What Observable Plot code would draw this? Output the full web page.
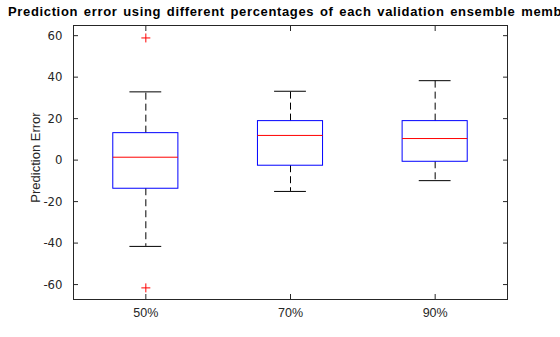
<!DOCTYPE html>
<html>
<head>
<meta charset="utf-8">
<script src="https://cdn.jsdelivr.net/npm/d3@7"></script>
<script src="https://cdn.jsdelivr.net/npm/@observablehq/plot@0.6"></script>
<style>
  html, body { margin: 0; padding: 0; background: #fff; overflow: hidden; }
  #wrap { position: relative; width: 560px; height: 337px; overflow: hidden; }
  #title { position: absolute; left: 8px; top: 4px; white-space: nowrap;
    font: bold 13px "Liberation Sans", Arial, sans-serif; color: #000;
    letter-spacing: 0.65px; word-spacing: 1.5px; }
</style>
</head>
<body>
<div id="wrap">
  <div id="chart"></div>
  <div id="title">Prediction error using different percentages of each validation ensemble members</div>
</div>
<script>
const categories = ["50%", "70%", "90%"];
const q1 = [-13.8, -2.7, -0.8];
const medians = [1.4, 11.9, 10.4];
const q3 = [13.0, 18.8, 18.8];
const whiskerLow = [-41.6, -15.1, -9.9];
const whiskerHigh = [32.9, 33.2, 38.3];
const outlierCategory = ["50%", "50%"];
const outlierValue = [58.9, -61.6];
const yTicks = [-60, -40, -20, 0, 20, 40, 60];
const yLabel = "Prediction Error";

const boxes = categories.map((c, i) => ({
  cat: c, pos: i + 1, q1: q1[i], med: medians[i], q3: q3[i], lo: whiskerLow[i], hi: whiskerHigh[i]
}));
const outliers = outlierCategory.map((c, i) => ({ pos: categories.indexOf(c) + 1, v: outlierValue[i] }));

const boxHalf = 0.225, capHalf = 0.11;
const axisColor = "#262626";
const fontFamily = "'Liberation Sans', Arial, sans-serif";
const narrowFont = "'Liberation Sans Narrow', 'DejaVu Sans Condensed', 'Liberation Sans', sans-serif";
const xTicks = categories.map((c, i) => i + 1);

const chart = Plot.plot({
  width: 560,
  height: 337,
  marginLeft: 73,
  marginRight: 53,
  marginTop: 25,
  marginBottom: 38,
  style: { fontFamily, fontSize: "12px", color: axisColor, background: "#fff" },
  x: { domain: [0.5, 3.5], axis: null },
  y: { domain: [-67.2, 64.9], axis: null },
  marks: [
    // whiskers (dashed)
    Plot.ruleX(boxes, { x: "pos", y1: "q3", y2: "hi", stroke: "#000", strokeWidth: 1, strokeDasharray: "7,4" }),
    Plot.ruleX(boxes, { x: "pos", y1: "q1", y2: "lo", stroke: "#000", strokeWidth: 1, strokeDasharray: "7,4" }),
    // caps
    Plot.ruleY(boxes, { y: "hi", x1: d => d.pos - capHalf, x2: d => d.pos + capHalf, stroke: "#000", strokeWidth: 1 }),
    Plot.ruleY(boxes, { y: "lo", x1: d => d.pos - capHalf, x2: d => d.pos + capHalf, stroke: "#000", strokeWidth: 1 }),
    // boxes
    Plot.rect(boxes, { x1: d => d.pos - boxHalf, x2: d => d.pos + boxHalf, y1: "q1", y2: "q3", fill: "none", stroke: "#0000ff", strokeWidth: 1 }),
    // medians
    Plot.ruleY(boxes, { y: "med", x1: d => d.pos - boxHalf, x2: d => d.pos + boxHalf, stroke: "#ff0000", strokeWidth: 1 }),
    // outliers
    Plot.dot(outliers, { x: "pos", y: "v", symbol: "plus", r: 3, stroke: "#ff0000", strokeWidth: 1 }),
    // frame
    Plot.frame({ stroke: axisColor, strokeWidth: 1 }),
    // inward ticks
    Plot.axisY(yTicks, { anchor: "left", tickSize: 5, dx: 5, tickFormat: () => "", label: null, stroke: axisColor }),
    Plot.axisY(yTicks, { anchor: "right", tickSize: 5, dx: -5, tickFormat: () => "", label: null, stroke: axisColor }),
    Plot.axisX(xTicks, { anchor: "bottom", tickSize: 5, dy: -5, tickFormat: () => "", label: null, stroke: axisColor }),
    Plot.axisX(xTicks, { anchor: "top", tickSize: 5, dy: 5, tickFormat: () => "", label: null, stroke: axisColor }),
    // tick labels
    Plot.axisY(yTicks, { anchor: "left", tickSize: 0, tickPadding: 11, tickFormat: d => String(d), label: null, fill: axisColor, fontSize: 13, fontFamily: narrowFont }),
    Plot.axisX(xTicks, { anchor: "bottom", tickSize: 0, tickPadding: 9, tickFormat: d => categories[d - 1], label: null, fill: axisColor, fontSize: 12.5 }),
    // y label
    Plot.text([yLabel], { text: d => d, frameAnchor: "left", rotate: -90, textAnchor: "middle", lineAnchor: "top", dx: -43, dy: -5, fill: axisColor, fontSize: 13 })
  ]
});
document.getElementById("chart").appendChild(chart);
</script>
</body>
</html>
